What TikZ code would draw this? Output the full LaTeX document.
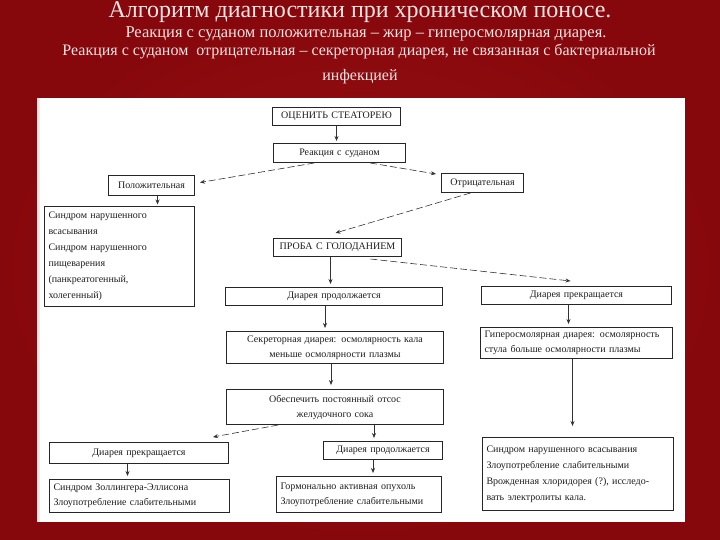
\documentclass[tikz,border=0pt]{standalone}
\usepackage{fontspec}
\setmainfont{Liberation Serif}
\usetikzlibrary{calc,arrows.meta}
\definecolor{bgred}{RGB}{135,8,12}
\definecolor{bgredlight}{RGB}{150,18,22}
\definecolor{titlecol}{RGB}{244,228,228}
\definecolor{boxtext}{RGB}{30,30,30}
\begin{document}
\begin{tikzpicture}[x=1pt,y=-1pt,
  box/.style={draw=black!85, line width=1pt, fill=white, text=boxtext,
    font=\fontsize{10}{15}\selectfont, inner xsep=4pt, inner ysep=0pt, anchor=north west},
  arr/.style={-{Stealth[length=5pt,width=4pt]}, line width=0.6pt, black!80},
  darr/.style={arr, dash pattern=on 7pt off 3pt},
  ttl/.style={text=titlecol, anchor=base}
]
\useasboundingbox (0,0) rectangle (720,540);
\shade[inner color=bgredlight, outer color=bgred] (0,0) rectangle (720,540);
\fill[white] (37,98) rectangle (685,522);
\fill[red!10] (37,98) rectangle (40,522);

% titles
\node[ttl, font=\fontsize{24}{28}\selectfont] (t1) at (360,18) {Алгоритм диагностики при хроническом поносе.};
\node[ttl, font=\fontsize{16.5}{18}\selectfont] (t2) at (366,38) {Реакция с суданом положительная – жир – гиперосмолярная диарея.};
\node[ttl, font=\fontsize{16}{18}\selectfont] (t3) at (359,56) {Реакция с суданом~ отрицательная – секреторная диарея, не связанная с бактериальной};
\node[ttl, font=\fontsize{16}{18}\selectfont] (t4) at (360,81) {инфекцией};

% boxes
\node[box, minimum height=18pt, text width=120pt, align=center] (A) at (272,107) {ОЦЕНИТЬ СТЕАТОРЕЮ};
\node[box, minimum height=19pt, text width=124pt, align=center] (B) at (273,143) {Реакция с суданом};
\node[box, minimum height=20pt, text width=78pt, align=center] (C) at (108,175) {Положительная};
\node[box, minimum height=19pt, text width=74pt, align=center] (D) at (441,173) {Отрицательная};
\node[box, minimum height=100pt, text width=142pt, align=left, font=\fontsize{10}{16}\selectfont] (E) at (44,206)
  {Синдром нарушенного\\всасывания\\Синдром нарушенного\\пищеварения\\(панкреатогенный,\\холегенный)};
\node[box, minimum height=18pt, text width=120pt, align=center] (F) at (273,238) {ПРОБА С ГОЛОДАНИЕМ};
\node[box, minimum height=18pt, text width=209pt, align=center] (G) at (225,287) {Диарея продолжается};
\node[box, minimum height=18pt, text width=182pt, align=center] (H) at (481,286) {Диарея прекращается};
\node[box, minimum height=32pt, text width=209pt, align=center] (I) at (226,331)
  {Секреторная диарея: осмолярность кала\\меньше осмолярности плазмы};
\node[box, minimum height=31pt, text width=184pt, align=left] (J) at (480,327)
  {Гиперосмолярная диарея: осмолярность\\стула больше осмолярности плазмы};
\node[box, minimum height=35pt, text width=209pt, align=center] (K) at (226,389)
  {Обеспечить постоянный отсос\\желудочного сока};
\node[box, minimum height=21pt, text width=171pt, align=center] (L) at (49,442) {Диарея прекращается};
\node[box, minimum height=18pt, text width=111pt, align=center] (M) at (323,441) {Диарея продолжается};
\node[box, minimum height=33pt, text width=172pt, align=left] (N) at (49,479)
  {Синдром Золлингера-Эллисона\\Злоупотребление слабительными};
\node[box, minimum height=36pt, text width=157pt, align=left] (O) at (276,476)
  {Гормонально активная опухоль\\Злоупотребление слабительными};
\node[box, minimum height=73pt, text width=183pt, align=left, font=\fontsize{10}{16}\selectfont] (P) at (482,437)
  {Синдром нарушенного всасывания\\Злоупотребление слабительными\\Врожденная хлоридорея (?), исследо-\\вать электролиты кала.};

% connectors
\draw[arr, shorten >=2pt] (A.south) -- (A.south |- B.north);
\draw[darr] ($(B.south west)!0.31!(B.south east)$) -- ($(C.east)+(5,-3)$);
\draw[darr] ($(B.south west)!0.73!(B.south east)$) -- ($(D.north west)+(-5,1)$);
\draw[arr, shorten >=1.5pt] ($(C.south)+(6,0)$) -- ($(C.south |- E.north)+(6,0)$);
\draw[darr] ($(D.south)+(-12,0)$) -- ($(F.north)+(-2,-5)$);
\draw[arr, shorten >=3pt] ($(F.south)+(-7,0)$) -- ($(F.south |- G.north)+(-7,0)$);
\draw[darr] ($(F.south)+(33,2)$) -- ($(H.north)+(-6,-5)$);
\draw[arr, shorten >=3pt] ($(G.south)+(-9,0)$) -- ($(G.south |- I.north)+(-9,0)$);
\draw[arr, shorten >=3pt] ($(H.south)+(-8,0)$) -- ($(H.south |- J.north)+(-8,0)$);
\draw[arr, shorten >=4pt] ($(I.south)+(-4,0)$) -- ($(I.south |- K.north)+(-4,0)$);
\draw[arr, shorten >=11pt] ($(J.south)+(-4,0)$) -- ($(J.south |- P.north)+(-4,0)$);
\draw[darr] ($(K.south west)!0.24!(K.south east)$) -- ($(L.north east)+(-16,-5)$);
\draw[arr, shorten >=3pt] ($(K.south -| M.north)+(-9,0)$) -- ($(M.north)+(-9,0)$);
\draw[arr, shorten >=3pt] ($(L.south)+(-11.5,0)$) -- ($(L.south |- N.north)+(-11.5,0)$);
\draw[arr, shorten >=3pt] ($(M.south)+(-10,0)$) -- ($(M.south |- O.north)+(-10,0)$);
\end{tikzpicture}
\end{document}
